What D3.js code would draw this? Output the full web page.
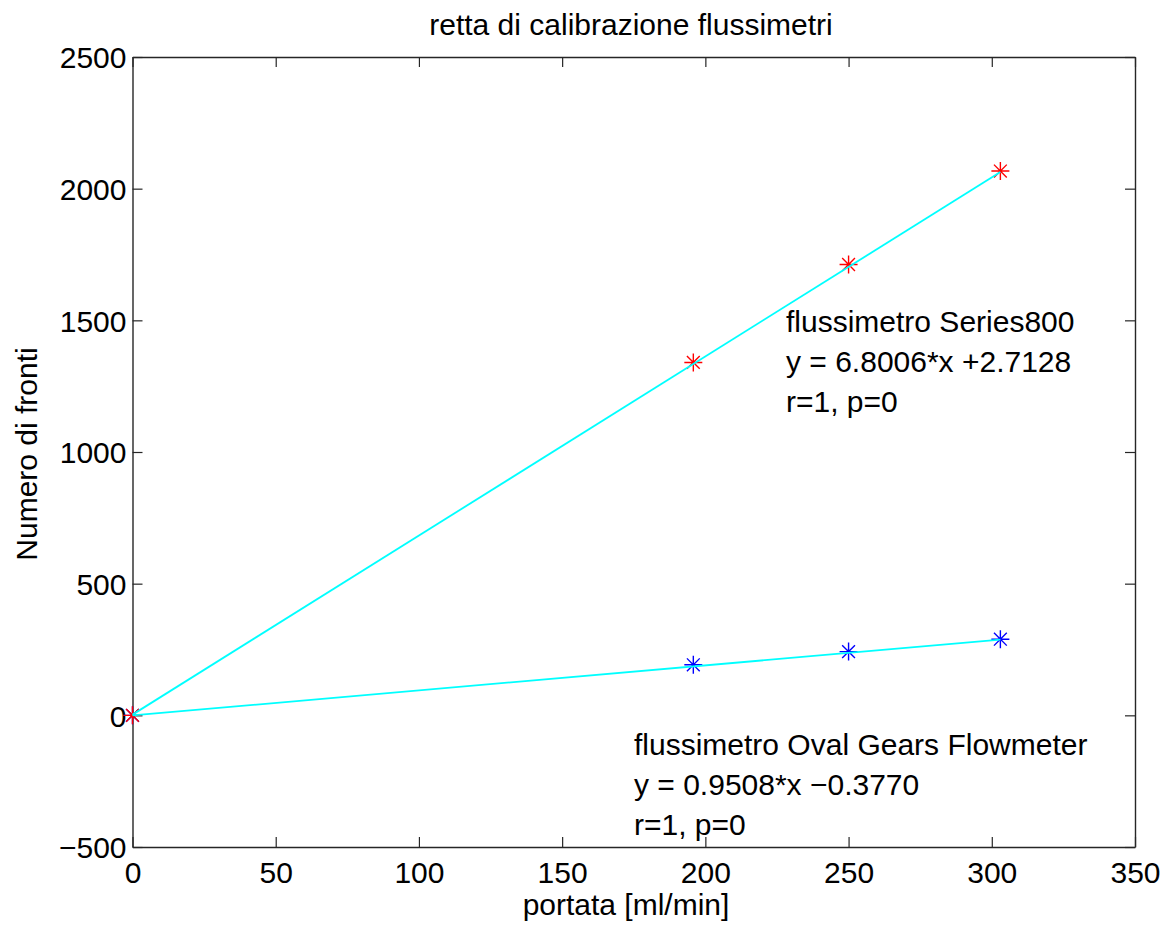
<!DOCTYPE html>
<html>
<head>
<meta charset="utf-8">
<script src="https://cdn.jsdelivr.net/npm/d3@7"></script>
<style>
  html, body { margin: 0; padding: 0; background: #fff; }
  text { font-family: "Liberation Sans", Arial, sans-serif; fill: #000; }
</style>
</head>
<body>
<div id="chart"></div>
<script>
// data
const portata = [0, 195.8, 250, 303];
const frontiSeries800 = [0, 1340, 1712, 2067];
const frontiOval = [0, 192, 242, 289];

// fitted lines (end points)
const fitX = [0, 303];
const fitSeries800 = [2.7, 2063.3];
const fitOval = [-0.4, 287.7];

const xTicks = [0, 50, 100, 150, 200, 250, 300, 350];
const yTicks = [-500, 0, 500, 1000, 1500, 2000, 2500];
const yTickLabels = ['\u2212500', '0', '500', '1000', '1500', '2000', '2500'];

const titleText = 'retta di calibrazione flussimetri';
const xLabel = 'portata [ml/min]';
const yLabel = 'Numero di fronti';
const noteSeries800 = ['flussimetro Series800', 'y = 6.8006*x +2.7128', 'r=1, p=0'];
const noteOval = ['flussimetro Oval Gears Flowmeter', 'y = 0.9508*x \u22120.3770', 'r=1, p=0'];

const width = 1170, height = 927;
const plotL = 132.5, plotR = 1135, plotT = 57, plotB = 847;
const fs = 30;

const svg = d3.select('#chart').append('svg')
  .attr('width', width).attr('height', height);

const x = d3.scaleLinear().domain([0, 350]).range([plotL, plotR]);
const y = d3.scaleLinear().domain([-500, 2500]).range([plotB, plotT]);

function styleAxis(g) {
  g.attr('font-family', null).attr('font-size', null);
  g.selectAll('.domain').attr('stroke', '#262626').attr('stroke-width', 1.4);
  g.selectAll('.tick line').attr('stroke', '#262626').attr('stroke-width', 1.2);
  g.selectAll('.tick text').style('font-size', fs + 'px').attr('fill', '#000');
}

svg.append('g').attr('transform', `translate(0,${plotB})`)
  .call(d3.axisBottom(x).tickValues(xTicks).tickSizeInner(-10).tickSizeOuter(0).tickPadding(15))
  .call(styleAxis);
svg.append('g').attr('transform', `translate(0,${plotT})`)
  .call(d3.axisTop(x).tickValues(xTicks).tickSizeInner(-10).tickSizeOuter(0).tickFormat(''))
  .call(styleAxis);
svg.append('g').attr('transform', `translate(${plotL},0)`)
  .call(d3.axisLeft(y).tickValues(yTicks).tickSizeInner(-10).tickSizeOuter(0).tickPadding(6)
    .tickFormat((d, i) => yTickLabels[i]))
  .call(styleAxis)
  .selectAll('.tick text').attr('dy', '0.36em');
svg.append('g').attr('transform', `translate(${plotR},0)`)
  .call(d3.axisRight(y).tickValues(yTicks).tickSizeInner(-10).tickSizeOuter(0).tickFormat(''))
  .call(styleAxis);

// asterisk markers
function asterisk(g, xs, ys, color) {
  const r = 9, d = 6.4;
  const m = g.selectAll(null).data(xs.map((v, i) => [v, ys[i]])).enter()
    .append('g').attr('transform', p => `translate(${x(p[0])},${y(p[1])})`)
    .attr('stroke', color).attr('stroke-width', 1.4).attr('fill', 'none');
  m.append('path').attr('d', `M${-r},0H${r}M0,${-r}V${r}M${-d},${-d}L${d},${d}M${-d},${d}L${d},${-d}`);
}
const marks = svg.append('g');
asterisk(marks, portata, frontiOval, '#0000ff');
asterisk(marks, portata, frontiSeries800, '#ff0000');

const line = d3.line().x(p => x(p[0])).y(p => y(p[1]));
[fitSeries800, fitOval].forEach(fy => {
  svg.append('path')
    .attr('d', line(fitX.map((v, i) => [v, fy[i]])))
    .attr('fill', 'none').attr('stroke', '#00ffff').attr('stroke-width', 1.8);
});

// annotations
function note(lines, x0, y0) {
  const t = svg.append('text').attr('x', x0).attr('y', y0).style('font-size', fs + 'px');
  lines.forEach((s, i) => t.append('tspan').attr('x', x0).attr('dy', i === 0 ? 0 : 40).text(s));
}
note(noteSeries800, 786, 332);
note(noteOval, 634, 755);

svg.append('text').attr('x', 631).attr('y', 35).attr('text-anchor', 'middle')
  .style('font-size', fs + 'px').text(titleText);
svg.append('text').attr('x', 626).attr('y', 915).attr('text-anchor', 'middle')
  .style('font-size', fs + 'px').text(xLabel);
svg.append('text').attr('transform', 'translate(37,454) rotate(-90)').attr('text-anchor', 'middle')
  .style('font-size', fs + 'px').text(yLabel);
</script>
</body>
</html>
